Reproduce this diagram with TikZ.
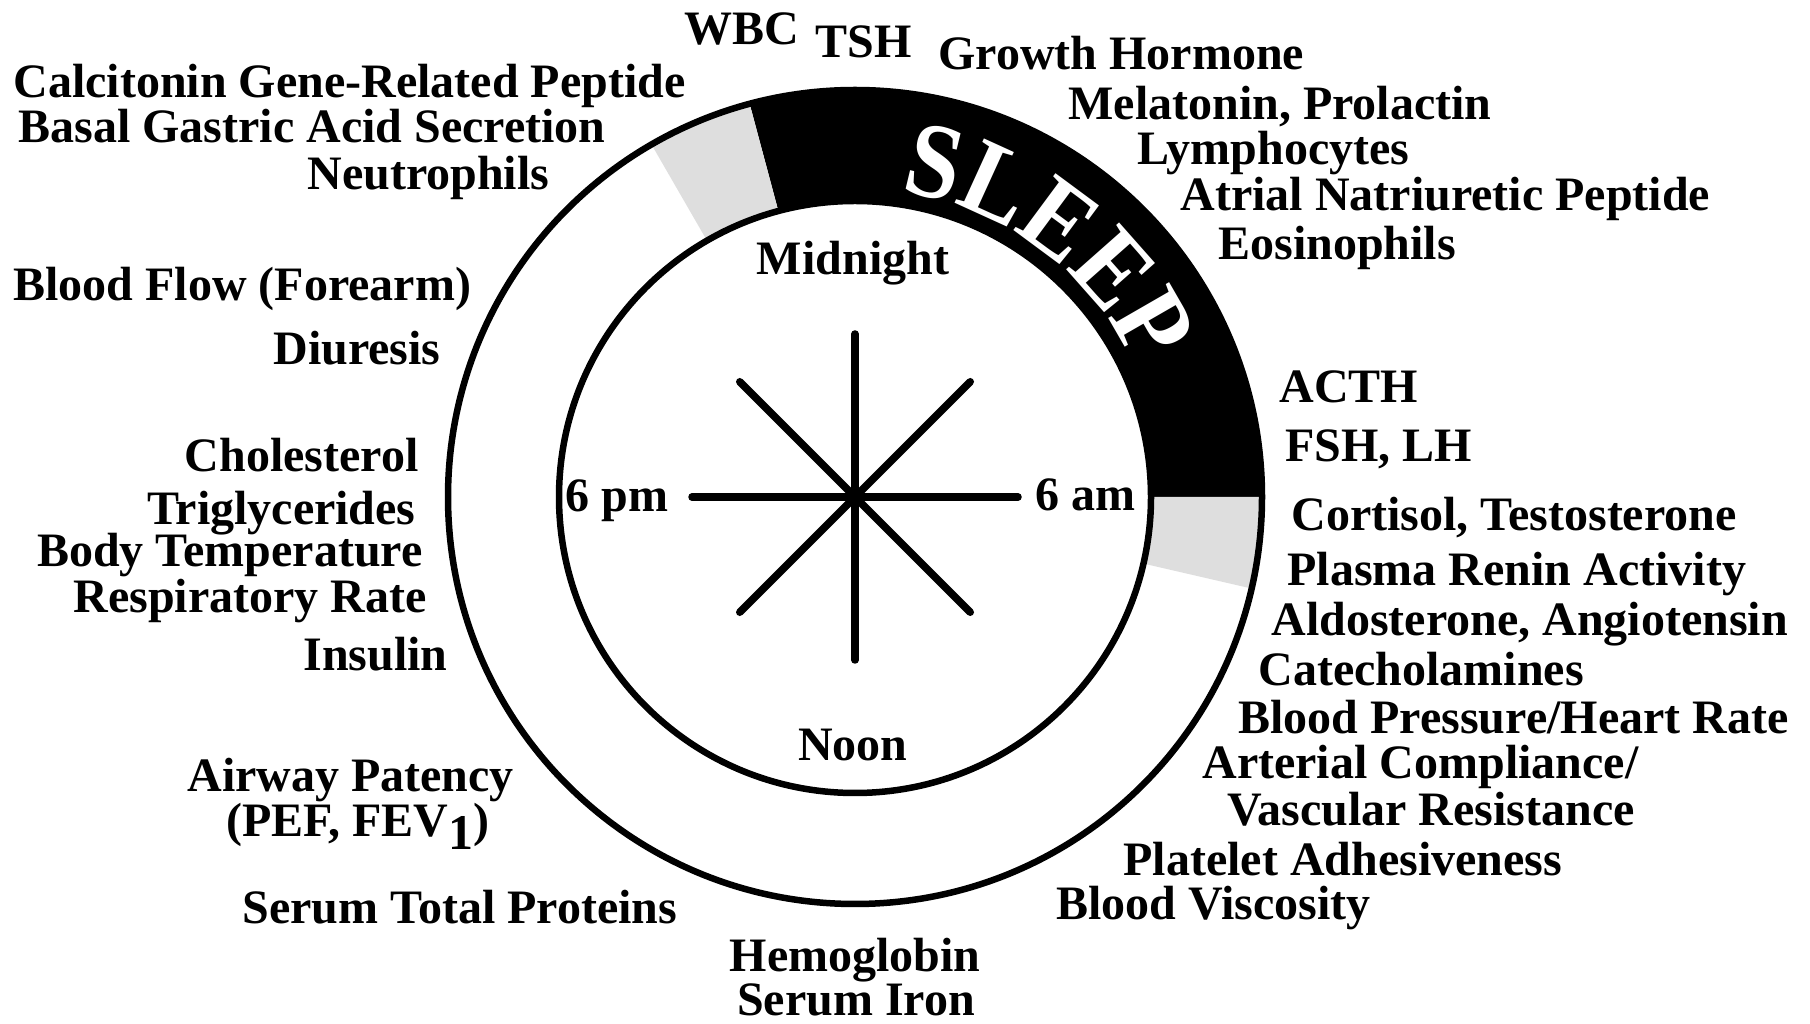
\documentclass[tikz,border=0pt]{standalone}
\usepackage{fontspec}
\setmainfont{Liberation Serif}
\newfontfamily\sleepface{Liberation Serif Bold}[FakeStretch=0.9]
\usetikzlibrary{decorations.text}
\newcommand\lblfont{\fontsize{24}{23}\selectfont\bfseries}
\newcommand\sleepfont{\sleepface\fontsize{54}{54}\selectfont}
\tikzset{
  lbl/.style={inner sep=0pt, font=\lblfont},
  lw/.style={lbl, anchor=base west},
  le/.style={lbl, anchor=base east},
  lc/.style={lbl, anchor=base},
  ring/.style={line width=3.25pt},
  spoke/.style={line width=3.75pt, line cap=round},
  band/.style={fill=black},
  grayband/.style={fill=black!13},
}
\begin{document}
\begin{tikzpicture}[x=0.5pt,y=0.5pt]
\useasboundingbox (0,0) rectangle (1810,1023);
\coordinate (C) at (855,526);
% bands
\fill[band] ([shift={(105:407)}]C) arc[start angle=105,end angle=0,radius=203.5pt]
  -- ([shift={(0:296)}]C) arc[start angle=0,end angle=105,radius=148pt] -- cycle;
\fill[grayband] ([shift={(120:407)}]C) arc[start angle=120,end angle=105,radius=203.5pt]
  -- ([shift={(105:296)}]C) arc[start angle=105,end angle=120,radius=148pt] -- cycle;
\fill[grayband] ([shift={(0:407)}]C) arc[start angle=0,end angle=-13,radius=203.5pt]
  -- ([shift={(-13:296)}]C) arc[start angle=-13,end angle=0,radius=148pt] -- cycle;
% rings
\draw[ring] (C) circle[radius=203.5pt];
\draw[ring] (C) circle[radius=148pt];
% SLEEP
\path[decorate, decoration={text along path, text={|\sleepfont|SLEEP}, text align=center, text color=white}]
  ([shift={(93.0:309)}]C) arc[start angle=93.0,end angle=13.0,radius=154.5pt];
% star
\coordinate (s0) at ([shift={(0:163)}]C);
\coordinate (s45) at ([shift={(45:163)}]C);
\coordinate (s90) at ([shift={(90:163)}]C);
\coordinate (s135) at ([shift={(135:163)}]C);
\coordinate (s180) at ([shift={(180:163)}]C);
\coordinate (s225) at ([shift={(225:163)}]C);
\coordinate (s270) at ([shift={(270:163)}]C);
\coordinate (s315) at ([shift={(315:163)}]C);
\draw[spoke] (s0) -- (s180);
\draw[spoke] (s90) -- (s270);
\draw[spoke] (s45) -- (s225);
\draw[spoke] (s135) -- (s315);
% clock labels
\node[lc] (mid) at (853,748) {Midnight};
\node[lc] (noon) at (853,262) {Noon};
\node[le] (pm) at (669,511) {6 pm};
\node[lw] (am) at (1035,512) {6 am};
% top labels
\node[lw] (wbc) at (684,978) {WBC};
\node[lw] (tsh) at (815,965) {TSH};
\node[lw] (gh) at (938,953) {Growth Hormone};
\node[lw] (mel) at (1068,903) {Melatonin, Prolactin};
\node[lw] (lym) at (1137,858) {Lymphocytes};
\node[lw] (anp) at (1180,812) {Atrial Natriuretic Peptide};
\node[lw] (eos) at (1218,763) {Eosinophils};
% left labels
\node[lw] (cgrp) at (13,925) {Calcitonin Gene-Related Peptide};
\node[lw] (bgas) at (18,880) {Basal Gastric Acid Secretion};
\node[lw] (neu) at (307,833) {Neutrophils};
\node[lw] (bff) at (13,722) {Blood Flow (Forearm)};
\node[le] (diu) at (441,658) {Diuresis};
\node[le] (chol) at (419,551) {Cholesterol};
\node[le] (tri) at (416,498) {Triglycerides};
\node[le] (bt) at (423,456) {Body Temperature};
\node[le] (rr) at (427,410) {Respiratory Rate};
\node[le] (ins) at (448,352) {Insulin};
\node[lw] (air) at (187,231) {Airway Patency};
\node[lw] (pef) at (226,186) {(PEF, FEV\raisebox{-6.5pt}{\fontsize{25}{25}\selectfont 1})};
\node[lw] (stp) at (242,99) {Serum Total Proteins};
% right labels
\node[lw] (acth) at (1279,620) {ACTH};
\node[lw] (fsh) at (1285,561) {FSH, LH};
\node[lw] (cort) at (1291,492) {Cortisol, Testosterone};
\node[lw] (pra) at (1287,437) {Plasma Renin Activity};
\node[lw] (ald) at (1271,387) {Aldosterone, Angiotensin};
\node[lw] (cat) at (1258,337) {Catecholamines};
\node[lw] (bp) at (1238,289) {Blood Pressure/Heart Rate};
\node[lw] (ac) at (1202,244) {Arterial Compliance/};
\node[lw] (vr) at (1227,197) {Vascular Resistance};
\node[lw] (pa) at (1123,147) {Platelet Adhesiveness};
\node[lw] (bv) at (1056,104) {Blood Viscosity};
% bottom labels
\node[lc] (hb) at (855,52) {Hemoglobin};
\node[lc] (si) at (856,8) {Serum Iron};
\end{tikzpicture}
\end{document}
